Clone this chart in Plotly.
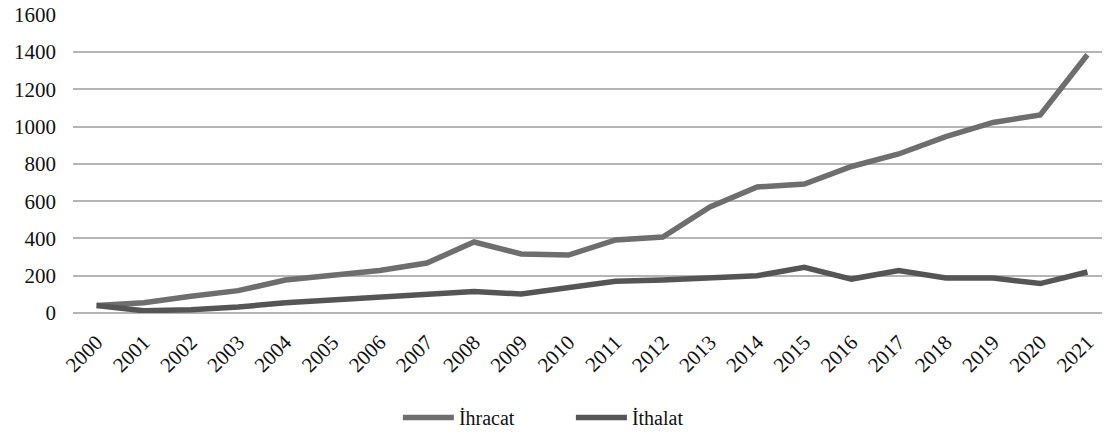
import plotly.graph_objects as go

years = [str(y) for y in range(2000, 2022)]
ihracat = [40, 55, 90, 120, 177, 200, 228, 268, 381, 317, 311, 392, 408, 569, 676, 692, 786, 853, 946, 1022, 1063, 1385]
ithalat = [40, 12, 18, 32, 55, 70, 82, 95, 115, 102, 135, 170, 177, 188, 200, 245, 182, 228, 188, 188, 158, 220]

fig = go.Figure()
fig.add_trace(go.Scatter(x=years, y=ihracat, mode="lines", name="İhracat",
                         line=dict(color="#6e6e6e", width=5.5)))
fig.add_trace(go.Scatter(x=years, y=ithalat, mode="lines", name="İthalat",
                         line=dict(color="#555555", width=5.5)))

fig.update_layout(
    width=1103, height=429,
    margin=dict(l=65, r=0, t=6, b=124),
    paper_bgcolor="white", plot_bgcolor="white",
    font=dict(family="Liberation Serif, Times New Roman, serif", size=21, color="#111"),
    showlegend=True,
    legend=dict(orientation="h", x=0.313, xanchor="left", y=-0.35, yanchor="middle",
                font=dict(size=20), itemwidth=51, entrywidth=107, entrywidthmode="pixels"),
)
fig.update_xaxes(type="category", range=[-0.5, 21.5], tickangle=-45, showgrid=False,
                 showline=False, ticks="", tickfont=dict(size=21), automargin=False,
                 ticklabelstandoff=12)
fig.update_yaxes(range=[0, 1604], tickvals=[0, 200, 400, 600, 800, 1000, 1200, 1400, 1600],
                 showgrid=True, gridcolor="#b5b5b5",
                 gridwidth=1.5, zeroline=True, zerolinecolor="#b5b5b5", zerolinewidth=1.5,
                 ticks="", tickfont=dict(size=21), automargin=False, ticklabelstandoff=16,
                 ticklabeloverflow="allow")
fig.update_traces(cliponaxis=False)

fig.write_html("out.html")
